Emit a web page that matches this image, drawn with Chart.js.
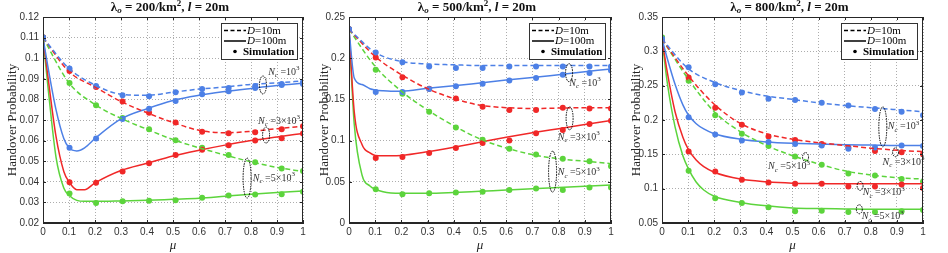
<!DOCTYPE html>
<html>
<head>
<meta charset="utf-8">
<script src="https://cdn.jsdelivr.net/npm/chart.js@4"></script>
<style>
body { margin: 0; background: #fff; }
#wrap { position: relative; width: 948px; height: 253px; overflow: hidden; }
canvas { position: absolute; top: 0; }
</style>
</head>
<body>
<div id="wrap">
<canvas id="c1" width="316" height="253" style="left:0px"></canvas>
<canvas id="c2" width="312" height="253" style="left:312px"></canvas>
<canvas id="c3" width="324" height="253" style="left:624px"></canvas>
</div>
<script>
// x values
var muDash = [0, 0.1, 0.2, 0.3, 0.4, 0.5, 0.6, 0.7, 0.8, 0.9, 1];
var muSolid = [0, 0.02, 0.05, 0.08, 0.1, 0.13, 0.16, 0.2, 0.3, 0.4, 0.5, 0.6, 0.7, 0.8, 0.9, 1];
var muSim = [0, 0.102, 0.204, 0.306, 0.408, 0.51, 0.612, 0.714, 0.816, 0.918, 1];

// panel 1: lambda = 200
var p1BlueDash = [0.11, 0.095, 0.087, 0.0825, 0.082, 0.0835, 0.085, 0.086, 0.0873, 0.088, 0.089];
var p1RedDash = [0.11, 0.0935, 0.086, 0.079, 0.0735, 0.0688, 0.065, 0.0638, 0.0645, 0.0658, 0.067];
var p1GreenDash = [0.11, 0.088, 0.0775, 0.0708, 0.0655, 0.0605, 0.0565, 0.053, 0.0497, 0.047, 0.045];
var p1BlueSolid = [0.11, 0.095, 0.075, 0.061, 0.0565, 0.055, 0.0565, 0.061, 0.0705, 0.0755, 0.0795, 0.082, 0.0838, 0.0853, 0.0867, 0.0878];
var p1RedSolid = [0.11, 0.09, 0.062, 0.045, 0.04, 0.0362, 0.0362, 0.0395, 0.0455, 0.049, 0.0525, 0.0553, 0.0578, 0.06, 0.0618, 0.0635];
var p1GreenSolid = [0.11, 0.085, 0.052, 0.037, 0.0335, 0.031, 0.0305, 0.0305, 0.0307, 0.031, 0.0315, 0.032, 0.033, 0.034, 0.0348, 0.0355];
var p1BlueDashSim = [0.11, 0.095, 0.0865, 0.082, 0.0815, 0.0835, 0.085, 0.0855, 0.0865, 0.0875, 0.0885];
var p1BlueSolidSim = [0.11, 0.0565, 0.061, 0.0705, 0.0755, 0.0792, 0.0825, 0.084, 0.0855, 0.087, 0.0875];
var p1RedDashSim = [0.11, 0.0938, 0.086, 0.079, 0.0735, 0.0688, 0.0643, 0.0636, 0.064, 0.0655, 0.067];
var p1RedSolidSim = [0.11, 0.0398, 0.0395, 0.045, 0.049, 0.053, 0.0555, 0.0578, 0.06, 0.0612, 0.0635];
var p1GreenDashSim = [0.11, 0.088, 0.0772, 0.071, 0.0655, 0.0602, 0.0565, 0.053, 0.0495, 0.0465, 0.0452];
var p1GreenSolidSim = [0.11, 0.0343, 0.0297, 0.0305, 0.0308, 0.031, 0.0322, 0.0333, 0.0338, 0.034, 0.0352];

// panel 2: lambda = 500
var p2BlueDash = [0.235, 0.207, 0.196, 0.193, 0.192, 0.191, 0.191, 0.191, 0.191, 0.191, 0.191];
var p2RedDash = [0.235, 0.202, 0.18, 0.163, 0.151, 0.143, 0.14, 0.139, 0.1395, 0.14, 0.14];
var p2GreenDash = [0.235, 0.19, 0.16, 0.137, 0.118, 0.102, 0.091, 0.083, 0.078, 0.075, 0.072];
var p2BlueSolid = [0.235, 0.176, 0.168, 0.163, 0.1615, 0.1605, 0.16, 0.16, 0.1635, 0.1665, 0.17, 0.1735, 0.1765, 0.18, 0.1835, 0.187];
var p2RedSolid = [0.235, 0.135, 0.095, 0.085, 0.082, 0.0815, 0.0815, 0.082, 0.0865, 0.092, 0.098, 0.104, 0.1095, 0.1145, 0.1195, 0.1245];
var p2GreenSolid = [0.235, 0.12, 0.058, 0.045, 0.041, 0.038, 0.0365, 0.036, 0.036, 0.037, 0.0385, 0.04, 0.0415, 0.043, 0.0445, 0.046];
var p2BlueDashSim = [0.235, 0.207, 0.195, 0.19, 0.188, 0.188, 0.19, 0.19, 0.19, 0.19, 0.19];
var p2BlueSolidSim = [0.235, 0.159, 0.159, 0.1625, 0.166, 0.169, 0.173, 0.176, 0.18, 0.182, 0.185];
var p2RedDashSim = [0.235, 0.201, 0.177, 0.163, 0.151, 0.141, 0.137, 0.137, 0.14, 0.139, 0.139];
var p2RedSolidSim = [0.235, 0.079, 0.08, 0.085, 0.091, 0.097, 0.1, 0.109, 0.113, 0.12, 0.124];
var p2GreenDashSim = [0.235, 0.186, 0.157, 0.135, 0.116, 0.101, 0.09, 0.083, 0.078, 0.075, 0.069];
var p2GreenSolidSim = [0.235, 0.041, 0.035, 0.036, 0.037, 0.038, 0.04, 0.042, 0.04, 0.043, 0.043];

// panel 3: lambda = 800
var p3BlueDash = [0.318, 0.275, 0.255, 0.243, 0.235, 0.23, 0.225, 0.221, 0.218, 0.215, 0.212];
var p3RedDash = [0.318, 0.265, 0.223, 0.195, 0.18, 0.172, 0.167, 0.163, 0.159, 0.156, 0.154];
var p3GreenDash = [0.318, 0.26, 0.212, 0.183, 0.163, 0.148, 0.136, 0.126, 0.12, 0.116, 0.114];
var p3BlueSolid = [0.318, 0.29, 0.252, 0.222, 0.208, 0.195, 0.187, 0.18, 0.172, 0.168, 0.166, 0.165, 0.164, 0.1635, 0.163, 0.163];
var p3RedSolid = [0.318, 0.27, 0.212, 0.175, 0.158, 0.142, 0.132, 0.124, 0.114, 0.11, 0.108, 0.1075, 0.107, 0.107, 0.107, 0.107];
var p3GreenSolid = [0.318, 0.255, 0.19, 0.148, 0.13, 0.11, 0.098, 0.089, 0.08, 0.075, 0.072, 0.071, 0.0705, 0.07, 0.07, 0.07];
var p3BlueDashSim = [0.318, 0.277, 0.252, 0.24, 0.231, 0.229, 0.225, 0.221, 0.216, 0.212, 0.207];
var p3BlueSolidSim = [0.318, 0.204, 0.179, 0.17, 0.168, 0.165, 0.163, 0.158, 0.16, 0.163, 0.162];
var p3RedDashSim = [0.315, 0.262, 0.218, 0.193, 0.176, 0.171, 0.165, 0.16, 0.155, 0.153, 0.15];
var p3RedSolidSim = [0.315, 0.154, 0.125, 0.113, 0.109, 0.107, 0.107, 0.103, 0.103, 0.106, 0.101];
var p3GreenDashSim = [0.32, 0.257, 0.207, 0.18, 0.162, 0.147, 0.135, 0.122, 0.119, 0.114, 0.11];
var p3GreenSolidSim = [0.32, 0.126, 0.086, 0.079, 0.073, 0.067, 0.068, 0.066, 0.066, 0.067, 0.069];

var blue = '#4d80e6';
var red = '#f02828';
var green = '#5cd43c';
var serif = "'Liberation Serif', 'DejaVu Serif', serif";
var sans = "'Liberation Sans', Arial, sans-serif";

// annotations: [mu, value] in data units, ellipse radii in px
var p1Ellipses = [[0.846, 0.087, 3.5, 9], [0.858, 0.0627, 3.5, 8], [0.785, 0.0418, 4, 20]];
var p1Labels = [[0.866, 0.0933, '10'], [0.827, 0.0695, '3\u00d710'], [0.807, 0.0418, '5\u00d710']];
var p2Ellipses = [[0.84, 0.1824, 3.5, 9], [0.842, 0.127, 3.5, 11.5], [0.777, 0.0623, 4, 20.5]];
var p2Labels = [[0.841, 0.17, '10'], [0.797, 0.104, '3\u00d710'], [0.797, 0.061, '5\u00d710']];
var p3Ellipses = [[0.846, 0.19, 4, 20], [0.895, 0.153, 3, 4.5], [0.55, 0.146, 3, 4.5], [0.759, 0.104, 3, 4.5], [0.756, 0.07, 3, 4.5]];
var p3Labels = [[0.865, 0.19, '10'], [0.845, 0.139, '3\u00d710'], [0.406, 0.132, '5\u00d710'], [0.769, 0.094, '3\u00d710'], [0.765, 0.059, '5\u00d710']];

function pts(xs, ys) {
    return xs.map(function (x, i) { return { x: x, y: ys[i] }; });
}

function lineSet(xs, ys, color, dashed) {
    return {
        type: 'line', data: pts(xs, ys), borderColor: color, borderWidth: 1.5,
        borderDash: dashed ? [5, 3] : [], pointRadius: 0, fill: false,
        cubicInterpolationMode: 'monotone'
    };
}

function simSet(ys, color) {
    return {
        type: 'scatter', data: pts(muSim, ys), backgroundColor: color,
        borderWidth: 0, pointRadius: 3, showLine: false
    };
}

// draw a list of [text, font, dy] pieces starting at x
function drawRuns(ctx, runs, x, y) {
    runs.forEach(function (r) {
        ctx.font = r[1];
        ctx.fillText(r[0], x, y + (r[2] || 0));
        x += ctx.measureText(r[0]).width;
    });
    return x;
}

function runsWidth(ctx, runs) {
    var w = 0;
    runs.forEach(function (r) { ctx.font = r[1]; w += ctx.measureText(r[0]).width; });
    return w;
}

function makeChart(id, lam, ymin, ymax, step, yWidth, rightPad, sets, ellipses, labels) {
    var decor = {
        id: 'decor',
        afterDraw: function (chart) {
            var ctx = chart.ctx, a = chart.chartArea;
            var xs = chart.scales.x, ys = chart.scales.y;
            ctx.save();
            // frame and inward ticks
            ctx.strokeStyle = '#262626';
            ctx.lineWidth = 1;
            ctx.setLineDash([]);
            ctx.strokeRect(Math.round(a.left) + 0.5, Math.round(a.top) + 0.5,
                Math.round(a.right - a.left) - 1, Math.round(a.bottom - a.top) - 1);
            ctx.beginPath();
            xs.ticks.forEach(function (t) {
                var px = Math.round(xs.getPixelForValue(t.value)) + 0.5;
                ctx.moveTo(px, a.bottom); ctx.lineTo(px, a.bottom - 3);
                ctx.moveTo(px, a.top); ctx.lineTo(px, a.top + 3);
            });
            ys.ticks.forEach(function (t) {
                var py = Math.round(ys.getPixelForValue(t.value)) + 0.5;
                ctx.moveTo(a.left, py); ctx.lineTo(a.left + 3, py);
                ctx.moveTo(a.right, py); ctx.lineTo(a.right - 3, py);
            });
            ctx.stroke();

            // title
            ctx.fillStyle = '#111';
            ctx.textBaseline = 'middle';
            ctx.textAlign = 'left';
            var tf = 'bold 13px ' + serif, tfs = 'bold italic 9px ' + serif, tfi = 'bold italic 13px ' + serif;
            var title = [['\u03bb', tf], ['o', tfs, 3], [' = ' + lam + '/km', tf], ['2', 'bold 9px ' + serif, -4],
                [', ', tf], ['l', tfi], [' = 20m', tf]];
            var tw = runsWidth(ctx, title);
            drawRuns(ctx, title, (a.left + a.right) / 2 - tw / 2 - 3, 8);

            // legend box
            var bx = Math.round(a.right) - 82, by = Math.round(a.top) + 6, bw = 76, bh = 36;
            ctx.fillStyle = '#fff';
            ctx.fillRect(bx, by, bw, bh);
            ctx.strokeStyle = '#333';
            ctx.strokeRect(bx + 0.5, by + 0.5, bw, bh);
            ctx.strokeStyle = '#000';
            ctx.lineWidth = 1.5;
            ctx.setLineDash([4, 2.5]);
            ctx.beginPath(); ctx.moveTo(bx + 3, by + 7.5); ctx.lineTo(bx + 25, by + 7.5); ctx.stroke();
            ctx.setLineDash([]);
            ctx.beginPath(); ctx.moveTo(bx + 3, by + 18); ctx.lineTo(bx + 25, by + 18); ctx.stroke();
            ctx.fillStyle = '#000';
            ctx.beginPath(); ctx.arc(bx + 14, by + 28.5, 1.8, 0, Math.PI * 2); ctx.fill();
            var lf = '11px ' + serif, lfi = 'italic 11px ' + serif;
            drawRuns(ctx, [['D', lfi], ['=10m', lf]], bx + 26, by + 8);
            drawRuns(ctx, [['D', lfi], ['=100m', lf]], bx + 26, by + 18.5);
            drawRuns(ctx, [['Simulation', 'bold 11px ' + serif]], bx + 22, by + 29);

            // ellipses
            ctx.strokeStyle = '#000';
            ctx.lineWidth = 1;
            ctx.setLineDash([1.5, 1]);
            ellipses.forEach(function (e) {
                ctx.beginPath();
                ctx.ellipse(xs.getPixelForValue(e[0]), ys.getPixelForValue(e[1]), e[2], e[3], 0, 0, Math.PI * 2);
                ctx.stroke();
            });
            ctx.setLineDash([]);

            // N_c labels
            ctx.fillStyle = '#333';
            var nf = '10px ' + serif, nfi = 'italic 10px ' + serif, nfs = 'italic 7px ' + serif;
            labels.forEach(function (l) {
                drawRuns(ctx, [['N', nfi], ['c', nfs, 3], [' =' + l[2], nf], ['3', '7px ' + serif, -4]],
                    xs.getPixelForValue(l[0]), ys.getPixelForValue(l[1]));
            });
            ctx.restore();
        }
    };

    return new Chart(document.getElementById(id), {
        data: { datasets: sets },
        plugins: [decor],
        options: {
            responsive: false,
            animation: false,
            devicePixelRatio: 1,
            layout: { padding: { top: 17, right: rightPad, left: 0, bottom: 0 } },
            plugins: { legend: { display: false }, tooltip: { enabled: false } },
            scales: {
                x: {
                    type: 'linear', min: 0, max: 1,
                    afterFit: function (s) { s.height = 30; },
                    ticks: {
                        stepSize: 0.1, padding: 3, color: '#333',
                        font: { family: sans, size: 10 },
                        callback: function (v) { return String(parseFloat(v.toFixed(2))); }
                    },
                    grid: { color: 'rgba(0,0,0,0.32)', drawTicks: false },
                    border: { color: '#262626', dash: [1, 2] },
                    title: { display: true, text: '\u03bc', padding: 0, color: '#222',
                        font: { family: serif, size: 13, style: 'italic' } }
                },
                y: {
                    type: 'linear', min: ymin, max: ymax,
                    afterFit: function (s) { s.width = yWidth; },
                    ticks: {
                        stepSize: step, padding: 4, color: '#333',
                        font: { family: sans, size: 10 },
                        callback: function (v) { return String(parseFloat(v.toFixed(3))); }
                    },
                    grid: { color: 'rgba(0,0,0,0.32)', drawTicks: false },
                    border: { color: '#262626', dash: [1, 2] },
                    title: { display: true, text: 'Handover Probability', padding: { top: 5, bottom: 0 }, color: '#222',
                        font: { family: serif, size: 13 } }
                }
            }
        }
    });
}

function panelSets(bD, rD, gD, bS, rS, gS, bDs, bSs, rDs, rSs, gDs, gSs) {
    return [
        lineSet(muDash, bD, blue, true), lineSet(muDash, rD, red, true), lineSet(muDash, gD, green, true),
        lineSet(muSolid, bS, blue, false), lineSet(muSolid, rS, red, false), lineSet(muSolid, gS, green, false),
        simSet(bDs, blue), simSet(bSs, blue), simSet(rDs, red), simSet(rSs, red), simSet(gDs, green), simSet(gSs, green)
    ];
}

makeChart('c1', 200, 0.02, 0.12, 0.01, 43, 13,
    panelSets(p1BlueDash, p1RedDash, p1GreenDash, p1BlueSolid, p1RedSolid, p1GreenSolid,
        p1BlueDashSim, p1BlueSolidSim, p1RedDashSim, p1RedSolidSim, p1GreenDashSim, p1GreenSolidSim),
    p1Ellipses, p1Labels);
makeChart('c2', 500, 0, 0.25, 0.05, 37, 13,
    panelSets(p2BlueDash, p2RedDash, p2GreenDash, p2BlueSolid, p2RedSolid, p2GreenSolid,
        p2BlueDashSim, p2BlueSolidSim, p2RedDashSim, p2RedSolidSim, p2GreenDashSim, p2GreenSolidSim),
    p2Ellipses, p2Labels);
makeChart('c3', 800, 0.05, 0.35, 0.05, 38, 25,
    panelSets(p3BlueDash, p3RedDash, p3GreenDash, p3BlueSolid, p3RedSolid, p3GreenSolid,
        p3BlueDashSim, p3BlueSolidSim, p3RedDashSim, p3RedSolidSim, p3GreenDashSim, p3GreenSolidSim),
    p3Ellipses, p3Labels);
</script>
</body>
</html>
